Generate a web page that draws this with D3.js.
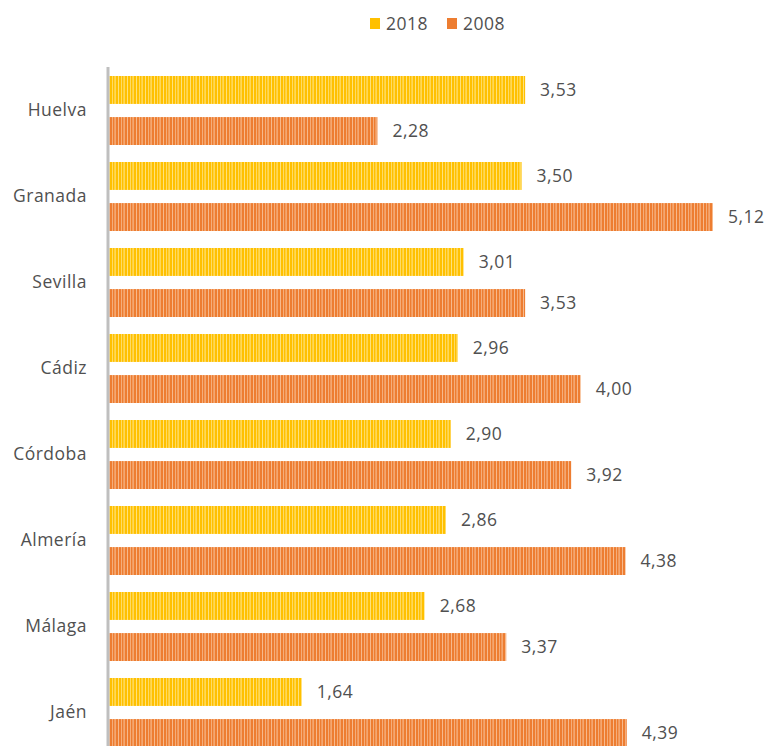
<!DOCTYPE html>
<html><head><meta charset="utf-8">
<script src="https://cdn.jsdelivr.net/npm/d3@7"></script>
<style>body{margin:0;background:#fff}svg{display:block}</style>
</head><body>
<script>
const categories = ["Huelva","Granada","Sevilla","Cádiz","Córdoba","Almería","Málaga","Jaén"];
const seriesNames = ["2018","2008"];
const values2018 = [3.53,3.50,3.01,2.96,2.90,2.86,2.68,1.64];
const values2008 = [2.28,5.12,3.53,4.00,3.92,4.38,3.37,4.39];
const colors = {"2018":"#FFC000","2008":"#ED7D31"};
const light = {"2018":"#FFE27A","2008":"#F7B98C"};

const W=768,H=746;
const FONT="Open Sans, sans-serif", FS=17.5, TXT="#505050";
const svg=d3.select("body").append("svg").attr("width",W).attr("height",H);
const defs=svg.append("defs");
seriesNames.forEach(s=>{
  const p=defs.append("pattern").attr("id","pat"+s).attr("patternUnits","userSpaceOnUse")
    .attr("width",9).attr("height",10);
  p.append("rect").attr("width",9).attr("height",10).attr("fill",colors[s]);
  [[1,1],[4,0.8],[6.5,1.2]].forEach(([x,w])=>p.append("rect").attr("x",x).attr("width",w).attr("height",10).attr("fill",light[s]));
});

const x=d3.scaleLinear().domain([0,5.12]).range([108,713]);
const y=d3.scaleBand().domain(categories).range([67,755]);
const inner=d3.scaleBand().domain(seriesNames).range([9,78]).paddingInner(0.32);

const data=categories.map((c,i)=>({c,v:{"2018":values2018[i],"2008":values2008[i]}}));
const g=svg.append("g");
data.forEach(d=>{
  seriesNames.forEach(s=>{
    const yy=y(d.c)+inner(s);
    g.append("rect").attr("x",x(0)).attr("y",yy).attr("width",x(d.v[s])-x(0)).attr("height",inner.bandwidth())
      .attr("fill","url(#pat"+s+")");
    g.append("text").attr("x",x(d.v[s])+15).attr("y",yy+inner.bandwidth()/2).attr("dy","0.35em")
      .attr("font-family",FONT).attr("font-size",FS).attr("letter-spacing",0.5).attr("fill",TXT)
      .text(d3.format(".2f")(d.v[s]).replace(".",","));
  });
});
// category axis
const ax=svg.append("g").attr("transform","translate(108,0)").call(d3.axisLeft(y).tickSize(0).tickPadding(21));
ax.select(".domain").remove();
ax.selectAll("text").attr("font-family",FONT).attr("font-size",FS).attr("letter-spacing",0.5).attr("fill",TXT);
svg.append("line").attr("x1",108).attr("x2",108).attr("y1",67).attr("y2",H).attr("stroke","#BFBFBF").attr("stroke-width",3);

// legend
const lg=svg.append("g");
[[370,"2018"],[447,"2008"]].forEach(([lx,s])=>{
  lg.append("rect").attr("x",lx).attr("y",18).attr("width",10).attr("height",11).attr("fill",colors[s]);
  lg.append("text").attr("x",lx+16).attr("y",24).attr("dy","0.35em").attr("font-family",FONT)
    .attr("font-size",FS).attr("letter-spacing",0.5).attr("fill",TXT).text(s);
});
</script>
</body></html>
